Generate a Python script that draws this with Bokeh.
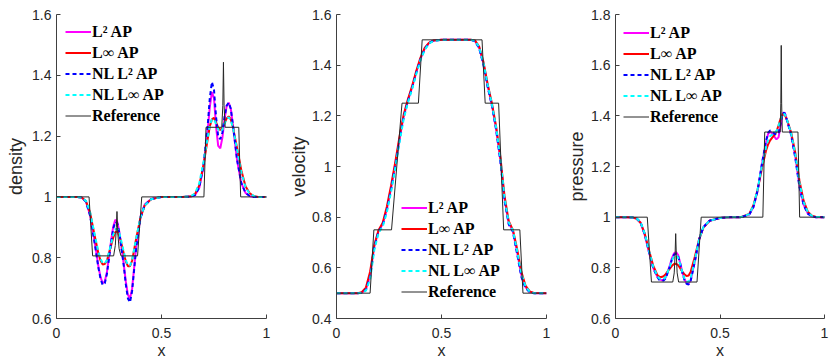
from bokeh.plotting import figure
from bokeh.layouts import row
from bokeh.models import FixedTicker, Legend, LegendItem
from bokeh.embed import file_html
from bokeh.resources import INLINE

# ---------------- data ----------------
x_ticks = [0, 0.5, 1]
x_tick_labels = ["0", "0.5", "1"]

density_ticks = [0.6, 0.8, 1.0, 1.2, 1.4, 1.6]
density_tick_labels = ["0.6", "0.8", "1", "1.2", "1.4", "1.6"]
velocity_ticks = [0.4, 0.6, 0.8, 1.0, 1.2, 1.4, 1.6]
velocity_tick_labels = ["0.4", "0.6", "0.8", "1", "1.2", "1.4", "1.6"]
pressure_ticks = [0.6, 0.8, 1.0, 1.2, 1.4, 1.6, 1.8]
pressure_tick_labels = ["0.6", "0.8", "1", "1.2", "1.4", "1.6", "1.8"]

series_names = ["L\u00b2 AP", "L\u221e AP", "NL L\u00b2 AP", "NL L\u221e AP", "Reference"]

# density
x_density = [0, 0.05, 0.10, 0.12, 0.14, 0.16, 0.18, 0.20, 0.21, 0.22, 0.23, 0.24, 0.26, 0.27, 0.28,
             0.29, 0.30, 0.32, 0.33, 0.34, 0.35, 0.36, 0.38, 0.40, 0.42, 0.45, 0.50, 0.55, 0.60, 0.64,
             0.66, 0.68, 0.70, 0.72, 0.73, 0.74, 0.75, 0.76, 0.77, 0.78, 0.79, 0.80, 0.81, 0.82, 0.83,
             0.84, 0.86, 0.88, 0.90, 0.92, 0.94, 0.96, 1.00]
density_l2 = [1.0, 1.0, 1.0, 0.998, 0.985, 0.94, 0.86, 0.77, 0.735, 0.716, 0.722, 0.752, 0.855, 0.902, 0.925,
              0.917, 0.882, 0.78, 0.722, 0.678, 0.666, 0.698, 0.84, 0.935, 0.975, 0.993, 1.0, 1.0, 1.0, 1.001,
              1.006, 1.03, 1.10, 1.22, 1.295, 1.345, 1.325, 1.23, 1.168, 1.16, 1.195, 1.255, 1.298, 1.31, 1.29,
              1.235, 1.12, 1.045, 1.013, 1.003, 1.0, 1.0, 1.0]
density_linf = [1.0, 1.0, 1.0, 0.998, 0.986, 0.948, 0.878, 0.812, 0.79, 0.778, 0.779, 0.79, 0.84, 0.866, 0.884,
                0.886, 0.872, 0.815, 0.788, 0.772, 0.772, 0.79, 0.865, 0.932, 0.972, 0.992, 1.0, 1.0, 1.0, 1.002,
                1.01, 1.038, 1.105, 1.19, 1.232, 1.255, 1.26, 1.245, 1.228, 1.22, 1.226, 1.243, 1.258, 1.265, 1.255,
                1.23, 1.16, 1.088, 1.035, 1.012, 1.003, 1.0, 1.0]
density_nl2 = [1.0, 1.0, 1.0, 0.998, 0.985, 0.938, 0.855, 0.765, 0.73, 0.71, 0.716, 0.746, 0.85, 0.895, 0.918,
               0.912, 0.878, 0.776, 0.712, 0.666, 0.653, 0.69, 0.835, 0.93, 0.973, 0.992, 1.0, 1.0, 1.0, 1.001,
               1.006, 1.032, 1.105, 1.235, 1.325, 1.378, 1.352, 1.262, 1.198, 1.19, 1.212, 1.262, 1.3, 1.31, 1.29,
               1.238, 1.122, 1.046, 1.013, 1.003, 1.0, 1.0, 1.0]
density_nlinf = [1.0, 1.0, 1.0, 0.998, 0.987, 0.95, 0.882, 0.818, 0.795, 0.782, 0.781, 0.792, 0.845, 0.875, 0.893,
                 0.895, 0.88, 0.82, 0.792, 0.776, 0.774, 0.792, 0.866, 0.933, 0.972, 0.992, 1.0, 1.0, 1.0, 1.002,
                 1.012, 1.045, 1.115, 1.195, 1.235, 1.255, 1.255, 1.24, 1.222, 1.215, 1.222, 1.24, 1.256, 1.262, 1.252,
                 1.228, 1.155, 1.082, 1.032, 1.01, 1.003, 1.0, 1.0]
x_density_ref = [0, 0.155, 0.172, 0.272, 0.28, 0.285, 0.288, 0.292, 0.298, 0.307, 0.386, 0.406,
                 0.702, 0.712, 0.787, 0.792, 0.795, 0.798, 0.803, 0.868, 0.877, 1.0]
density_ref = [1.0, 1.0, 0.806, 0.806, 0.84, 0.90, 0.952, 0.88, 0.83, 0.806, 0.806, 1.0,
               1.0, 1.229, 1.229, 1.30, 1.443, 1.30, 1.229, 1.229, 1.0, 1.0]

# velocity
x_velocity = [0, 0.05, 0.10, 0.12, 0.14, 0.16, 0.18, 0.20, 0.22, 0.24, 0.26, 0.28, 0.30, 0.32, 0.34,
              0.36, 0.38, 0.40, 0.42, 0.44, 0.46, 0.50, 0.55, 0.60, 0.64, 0.66, 0.68, 0.70, 0.72, 0.74,
              0.76, 0.78, 0.80, 0.82, 0.84, 0.86, 0.88, 0.90, 0.92, 0.94, 1.00]
velocity_l2 = [0.5, 0.5, 0.5, 0.502, 0.515, 0.57, 0.685, 0.745, 0.772, 0.832, 0.915, 1.008, 1.108, 1.198, 1.26,
               1.312, 1.372, 1.425, 1.465, 1.487, 1.496, 1.5, 1.5, 1.5, 1.5, 1.495, 1.468, 1.405, 1.318, 1.242,
               1.15, 1.03, 0.872, 0.777, 0.745, 0.662, 0.572, 0.524, 0.505, 0.5, 0.5]
velocity_linf = [0.5, 0.5, 0.5, 0.504, 0.522, 0.585, 0.69, 0.748, 0.778, 0.842, 0.925, 1.018, 1.118, 1.205, 1.265,
                 1.318, 1.378, 1.43, 1.468, 1.488, 1.497, 1.5, 1.5, 1.5, 1.5, 1.497, 1.472, 1.412, 1.325, 1.25,
                 1.158, 1.04, 0.885, 0.785, 0.75, 0.675, 0.585, 0.53, 0.507, 0.501, 0.5]
velocity_nl2 = [0.5, 0.5, 0.5, 0.502, 0.513, 0.565, 0.68, 0.742, 0.768, 0.828, 0.91, 1.003, 1.103, 1.195, 1.258,
                1.31, 1.37, 1.423, 1.463, 1.486, 1.496, 1.5, 1.5, 1.5, 1.5, 1.494, 1.465, 1.4, 1.313, 1.24,
                1.145, 1.022, 0.865, 0.772, 0.742, 0.655, 0.565, 0.52, 0.504, 0.5, 0.5]
velocity_nlinf = [0.5, 0.5, 0.5, 0.501, 0.51, 0.555, 0.67, 0.738, 0.762, 0.82, 0.9, 0.995, 1.095, 1.188, 1.252,
                  1.305, 1.365, 1.42, 1.46, 1.485, 1.495, 1.5, 1.5, 1.5, 1.5, 1.496, 1.47, 1.408, 1.322, 1.246,
                  1.155, 1.035, 0.878, 0.78, 0.748, 0.668, 0.578, 0.527, 0.506, 0.5, 0.5]
x_velocity_ref = [0, 0.16, 0.178, 0.262, 0.312, 0.39, 0.408, 0.693, 0.708, 0.772, 0.796, 0.873, 0.888, 1.0]
velocity_ref = [0.5, 0.5, 0.75, 0.75, 1.25, 1.25, 1.5, 1.5, 1.25, 1.25, 0.75, 0.75, 0.5, 0.5]

# pressure
x_pressure = [0, 0.05, 0.08, 0.10, 0.12, 0.14, 0.16, 0.18, 0.20, 0.21, 0.22, 0.23, 0.24, 0.26, 0.27,
              0.28, 0.29, 0.30, 0.31, 0.32, 0.33, 0.34, 0.35, 0.36, 0.38, 0.40, 0.42, 0.45, 0.50, 0.55,
              0.60, 0.64, 0.66, 0.68, 0.70, 0.72, 0.73, 0.74, 0.75, 0.76, 0.77, 0.78, 0.79, 0.80, 0.81,
              0.82, 0.84, 0.86, 0.88, 0.90, 0.92, 0.94, 0.96, 1.00]
pressure_l2 = [1.0, 1.0, 0.999, 0.995, 0.978, 0.93, 0.862, 0.80, 0.766, 0.756, 0.751, 0.753, 0.762, 0.81, 0.838,
               0.857, 0.862, 0.85, 0.818, 0.782, 0.755, 0.74, 0.738, 0.752, 0.828, 0.912, 0.96, 0.986, 0.997, 1.0,
               1.0, 1.01, 1.04, 1.105, 1.205, 1.295, 1.328, 1.338, 1.33, 1.318, 1.307, 1.315, 1.36, 1.41, 1.412,
               1.385, 1.33, 1.24, 1.125, 1.05, 1.015, 1.003, 1.0, 1.0]
pressure_linf = [1.0, 1.0, 0.999, 0.995, 0.978, 0.935, 0.87, 0.81, 0.772, 0.765, 0.764, 0.767, 0.775, 0.797, 0.808,
                 0.815, 0.816, 0.81, 0.798, 0.785, 0.774, 0.768, 0.77, 0.785, 0.845, 0.912, 0.958, 0.986, 0.997, 1.0,
                 1.0, 1.013, 1.047, 1.108, 1.19, 1.262, 1.287, 1.303, 1.314, 1.324, 1.338, 1.362, 1.39, 1.406, 1.404,
                 1.385, 1.335, 1.255, 1.145, 1.065, 1.022, 1.006, 1.001, 1.0]
pressure_nl2 = [1.0, 1.0, 0.999, 0.996, 0.979, 0.932, 0.863, 0.80, 0.764, 0.752, 0.748, 0.75, 0.758, 0.805, 0.833,
                0.852, 0.856, 0.845, 0.815, 0.78, 0.752, 0.737, 0.734, 0.75, 0.826, 0.912, 0.96, 0.986, 0.997, 1.0,
                1.0, 1.01, 1.04, 1.105, 1.208, 1.3, 1.333, 1.342, 1.338, 1.33, 1.325, 1.33, 1.37, 1.412, 1.41,
                1.383, 1.325, 1.235, 1.12, 1.048, 1.014, 1.003, 1.0, 1.0]
pressure_nlinf = [1.0, 1.0, 0.999, 0.996, 0.98, 0.935, 0.868, 0.806, 0.768, 0.758, 0.754, 0.756, 0.764, 0.805, 0.83,
                  0.845, 0.85, 0.84, 0.812, 0.782, 0.758, 0.746, 0.745, 0.76, 0.832, 0.913, 0.96, 0.986, 0.997, 1.0,
                  1.0, 1.012, 1.045, 1.11, 1.2, 1.275, 1.305, 1.32, 1.326, 1.332, 1.34, 1.36, 1.388, 1.408, 1.406,
                  1.386, 1.332, 1.25, 1.138, 1.06, 1.02, 1.005, 1.001, 1.0]
x_pressure_ref = [0, 0.152, 0.172, 0.274, 0.281, 0.285, 0.288, 0.291, 0.295, 0.302, 0.39, 0.41,
                  0.705, 0.714, 0.788, 0.791, 0.793, 0.795, 0.798, 0.873, 0.881, 1.0]
pressure_ref = [1.0, 1.0, 0.744, 0.744, 0.78, 0.85, 0.935, 0.85, 0.78, 0.744, 0.744, 1.0,
                1.0, 1.336, 1.336, 1.45, 1.678, 1.45, 1.336, 1.336, 1.0, 1.0]

# ---------------- styling ----------------
COLORS = ["#ff00ff", "#ff0000", "#0000ff", "#00ffff", "#262626"]
TICK_FONT = "Liberation Sans"
AXIS_COLOR = "#404040"


def make_panel(xg, curves, xref, ref, ylabel, yrange, yticks, ylabels,
               frame_w, border_left, border_right, legend_xy, ylabel_standoff):
    p = figure(frame_width=frame_w, frame_height=304, x_range=(0, 1), y_range=yrange,
               output_backend="svg", toolbar_location=None,
               min_border_left=border_left, min_border_right=border_right,
               min_border_top=14, min_border_bottom=36)
    p.outline_line_color = None
    p.xgrid.visible = False
    p.ygrid.visible = False
    p.background_fill_color = "white"
    p.border_fill_color = "white"

    rends = []
    for i, yv in enumerate(curves):
        dash = "solid" if i < 2 else "4 3"
        r = p.line(xg, yv, line_color=COLORS[i], line_width=2, line_dash=dash)
        rends.append(r)
    rref = p.line(xref, ref, line_color=COLORS[4], line_width=1)
    rends.append(rref)

    for ax in (p.xaxis[0], p.yaxis[0]):
        ax.axis_line_color = AXIS_COLOR
        ax.major_tick_line_color = AXIS_COLOR
        ax.major_tick_in = 4
        ax.major_tick_out = 0
        ax.minor_tick_line_color = None
        ax.major_label_text_font = TICK_FONT
        ax.major_label_text_font_size = "14px"
        ax.major_label_text_color = "#262626"
        ax.axis_label_text_font = TICK_FONT
        ax.axis_label_text_font_style = "normal"
        ax.axis_label_text_color = "#262626"

    p.xaxis.ticker = FixedTicker(ticks=x_ticks)
    p.xaxis.major_label_overrides = {t: s for t, s in zip(x_ticks, x_tick_labels)}
    p.xaxis.axis_label = "x"
    p.xaxis.axis_label_text_font_size = "16px"
    p.xaxis.major_label_standoff = 9
    p.xaxis.axis_label_standoff = 1

    p.yaxis.ticker = FixedTicker(ticks=yticks)
    p.yaxis.major_label_overrides = {t: s for t, s in zip(yticks, ylabels)}
    p.yaxis.axis_label = ylabel
    p.yaxis.axis_label_text_font_size = "18px"
    p.yaxis.major_label_standoff = 5
    p.yaxis.axis_label_standoff = ylabel_standoff

    items = [LegendItem(label=series_names[i], renderers=[rends[i]]) for i in range(5)]
    legend = Legend(items=items, location=legend_xy)
    legend.label_text_font = "serif"
    legend.label_text_font_style = "bold"
    legend.label_text_font_size = "16px"
    legend.label_text_color = "black"
    legend.background_fill_alpha = 0
    legend.border_line_color = None
    legend.padding = 0
    legend.margin = 0
    legend.spacing = 0
    legend.glyph_width = 26
    legend.glyph_height = 21
    legend.label_height = 21
    legend.label_standoff = 1
    p.add_layout(legend)
    return p


p1 = make_panel(x_density, [density_l2, density_linf, density_nl2, density_nlinf],
                x_density_ref, density_ref, "density", (0.6, 1.6),
                density_ticks, density_tick_labels, 210, 56, 10, (9, 192), 3)
p2 = make_panel(x_velocity, [velocity_l2, velocity_linf, velocity_nl2, velocity_nlinf],
                x_velocity_ref, velocity_ref, "velocity", (0.4, 1.6),
                velocity_ticks, velocity_tick_labels, 210, 60, 9, (65, 16), 0)
p3 = make_panel(x_pressure, [pressure_l2, pressure_linf, pressure_nl2, pressure_nlinf],
                x_pressure_ref, pressure_ref, "pressure", (0.6, 1.8),
                pressure_ticks, pressure_tick_labels, 209, 60, 6, (8, 191), 1)

layout = row(p1, p2, p3)
open("out.html", "w").write(file_html(layout, INLINE))
